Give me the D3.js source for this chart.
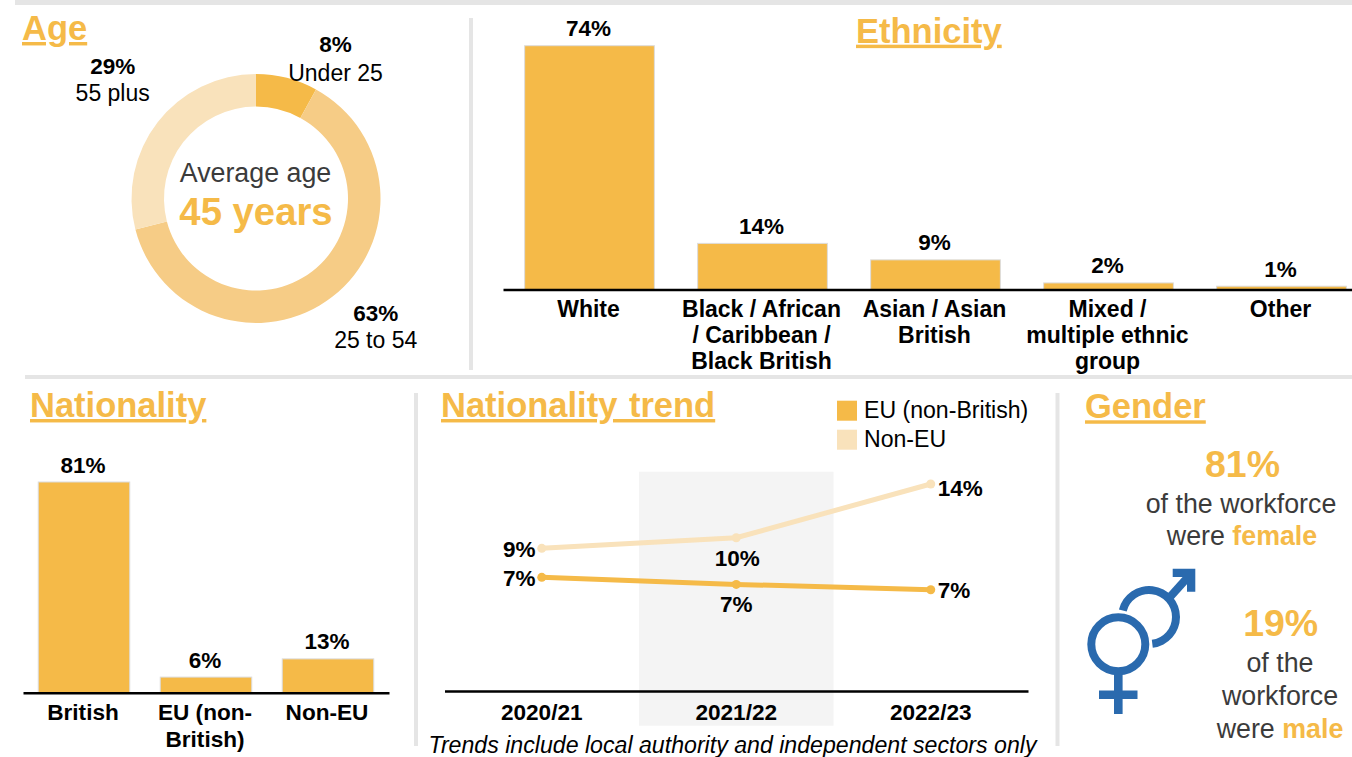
<!DOCTYPE html>
<html lang="en">
<head>
<meta charset="utf-8">
<title>Workforce demographics</title>
<script src="https://cdn.jsdelivr.net/npm/d3@7/dist/d3.min.js"></script>
<style>
  html, body { margin: 0; padding: 0; background: #fff; overflow: hidden; }
  svg { display: block; font-family: "Liberation Sans", Arial, sans-serif; }
  text { fill: #000; }
  .title { font-size: 34.5px; font-weight: 700; fill: #F5BA48; text-decoration: underline; }
  .value { font-size: 22.5px; font-weight: 700; text-anchor: middle; }
  .plain { font-size: 23px; text-anchor: middle; }
  .grey { font-size: 26.8px; fill: #3b3b3b; text-anchor: middle; }
  .big { font-weight: 700; fill: #F5BA48; text-anchor: middle; }
  .accent { font-weight: 700; fill: #F5BA48; }
  .axis path { stroke: #000; stroke-width: 2.5px; }
  .axis .tick line { display: none; }
  .axis text { font-family: "Liberation Sans", Arial, sans-serif; font-weight: 700; fill: #000; }
</style>
</head>
<body>
<svg id="chart" width="1352" height="757" viewBox="0 0 1352 757"></svg>
<script>
// Age bands
const ageBands = ["Under 25", "25 to 54", "55 plus"];
const ageShares = [8, 63, 29];
const averageAge = 45;

// Ethnicity
const ethnicityGroups = ["White", "Black / African\n/ Caribbean /\nBlack British", "Asian / Asian\nBritish", "Mixed /\nmultiple ethnic\ngroup", "Other"];
const ethnicityShares = [74, 14, 9, 2, 1];

// Nationality
const nationalityGroups = ["British", "EU (non-\nBritish)", "Non-EU"];
const nationalityShares = [81, 6, 13];

// Nationality trend
const trendYears = ["2020/21", "2021/22", "2022/23"];
const trendEU = [7.4, 6.9, 6.52];
const trendNonEU = [9.45, 10.2, 14];
const trendNames = ["EU (non-British)", "Non-EU"];

// Gender
const femaleShare = 81;
const maleShare = 19;

const GOLD = "#F5BA48", MID = "#F6CC86", PALE = "#F9E2BB", RULE = "#e5e5e5", BLUE = "#2A6AAE";
const pct = v => `${Math.round(v)}%`;
const svg = d3.select("#chart");

// Panel dividers
[[15, 0, 1337, 5], [25, 375, 1327, 4], [469, 18, 4, 352], [414, 393, 4, 353], [1055.5, 393, 4, 353]]
  .forEach(([x, y, w, h]) => svg.append("rect").attr("x", x).attr("y", y).attr("width", w).attr("height", h).attr("fill", RULE));

function title(text, x, y) {
  svg.append("text").attr("class", "title").attr("x", x).attr("y", y).text(text);
}

// Break "\n"-separated axis labels into stacked tspans
function stackLabels(axisGroup, firstBaselineOffset, size, lineHeight, dx = 0) {
  axisGroup.selectAll(".tick text").each(function (d) {
    const t = d3.select(this).text(null).attr("y", 0).attr("dy", null).attr("font-size", size);
    d.split("\n").forEach((line, i) => {
      t.append("tspan").attr("x", dx).attr("y", firstBaselineOffset + i * lineHeight).text(line);
    });
  });
}

function barPanel({ groups, shares, rangeX, rangeY, maxValue, labelSize, labelOffset, lineHeight }) {
  const x = d3.scaleBand().domain(groups).range(rangeX).paddingInner(0.25).paddingOuter(0.125);
  const y = d3.scaleLinear().domain([0, maxValue]).range(rangeY);
  const rows = groups.map((g, i) => ({ g, v: shares[i] }));

  svg.append("g").selectAll("rect").data(rows).join("rect")
    .attr("x", d => x(d.g))
    .attr("y", d => y(d.v))
    .attr("width", x.bandwidth())
    .attr("height", d => y(0) - y(d.v))
    .attr("fill", GOLD)
    .attr("stroke", "#dcdcdc")
    .attr("stroke-width", 1);

  svg.append("g").selectAll("text").data(rows).join("text")
    .attr("class", "value")
    .attr("x", d => x(d.g) + x.bandwidth() / 2 - 1)
    .attr("y", d => y(d.v) - 9.5)
    .text(d => pct(d.v));

  const axis = svg.append("g").attr("class", "axis")
    .attr("transform", `translate(0,${rangeY[0]})`)
    .call(d3.axisBottom(x).tickSize(0).tickSizeOuter(0));
  stackLabels(axis, labelOffset, labelSize, lineHeight, -1);
}

// ---- Age ----
title("Age", 22, 40);
const donut = svg.append("g").attr("transform", "translate(256,198.5)");
const pie = d3.pie().sort(null).value(d => d)(ageShares);
const ring = d3.arc().innerRadius(92).outerRadius(124.5);
const ageColour = d3.scaleOrdinal().domain(ageBands).range([GOLD, MID, PALE]);
donut.selectAll("path").data(pie).join("path")
  .attr("d", ring)
  .attr("fill", (d, i) => ageColour(ageBands[i]));

const agePlacement = [[335.5, 52.3, 28.5], [375.7, 320.7, 27], [112.7, 74, 27]];
ageBands.forEach((band, i) => {
  const [cx, by, gap] = agePlacement[i];
  svg.append("text").attr("class", "value").attr("font-size", 23).attr("x", cx).attr("y", by).text(pct(ageShares[i]));
  svg.append("text").attr("class", "plain").attr("x", cx).attr("y", by + gap).text(band);
});
svg.append("text").attr("class", "grey").attr("x", 255.5).attr("y", 182).text("Average age");
svg.append("text").attr("class", "big").attr("font-size", 38.3).attr("x", 256).attr("y", 225).text(`${averageAge} years`);

// ---- Ethnicity ----
title("Ethnicity", 856, 42.7);
barPanel({
  groups: ethnicityGroups, shares: ethnicityShares,
  rangeX: [503, 1368], rangeY: [289.5, 45.7], maxValue: 74,
  labelSize: 23, labelOffset: 27.3, lineHeight: 26
});

// ---- Nationality ----
title("Nationality", 30, 417);
barPanel({
  groups: nationalityGroups, shares: nationalityShares,
  rangeX: [23, 389], rangeY: [692.7, 482], maxValue: 81,
  labelSize: 22.6, labelOffset: 27.7, lineHeight: 26.3
});

// ---- Nationality trend ----
svg.append("text").attr("class", "title").attr("x", 441).attr("y", 417).style("word-spacing", "2px").text("Nationality trend");

const tx = d3.scaleBand().domain(trendYears).range([444.5, 1028]);
const ty = d3.scaleLinear().domain([-0.64, 14]).range([691, 484]);
const centre = yr => tx(yr) + tx.bandwidth() / 2;

svg.append("rect")
  .attr("x", tx(trendYears[1])).attr("y", 471.7)
  .attr("width", tx.bandwidth()).attr("height", 254)
  .attr("fill", "#f4f4f4");

const trendAxis = svg.append("g").attr("class", "axis")
  .attr("transform", `translate(0,${ty.range()[0]})`)
  .call(d3.axisBottom(tx).tickSize(0).tickSizeOuter(0));
stackLabels(trendAxis, 28.5, 22.6, 26);

const trendLine = d3.line().x(d => centre(d.year)).y(d => ty(d.value));
const trendSeries = [
  { name: trendNames[1], values: trendNonEU, colour: PALE, labelOffsets: [[-22.5, 9, "middle"], [1, 28.5, "middle"], [7, 12, "start"]] },
  { name: trendNames[0], values: trendEU, colour: GOLD, labelOffsets: [[-22.5, 8.5, "middle"], [0, 27.5, "middle"], [7, 8.5, "start"]] }
];
trendSeries.forEach(s => {
  const pts = trendYears.map((year, i) => ({ year, value: s.values[i] }));
  svg.append("path").attr("d", trendLine(pts)).attr("fill", "none").attr("stroke", s.colour).attr("stroke-width", 5);
  svg.append("g").selectAll("circle").data(pts).join("circle")
    .attr("cx", d => centre(d.year)).attr("cy", d => ty(d.value)).attr("r", 4.5).attr("fill", s.colour);
  svg.append("g").selectAll("text").data(pts).join("text")
    .attr("class", "value")
    .attr("x", (d, i) => centre(d.year) + s.labelOffsets[i][0])
    .attr("y", (d, i) => ty(d.value) + s.labelOffsets[i][1])
    .style("text-anchor", (d, i) => s.labelOffsets[i][2])
    .text(d => pct(d.value));
});

// Legend
[[trendNames[0], GOLD], [trendNames[1], PALE]].forEach(([name, colour], i) => {
  const ly = 400.7 + i * 29;
  svg.append("rect").attr("x", 837).attr("y", ly).attr("width", 20).attr("height", 20).attr("fill", colour);
  svg.append("text").attr("x", 864).attr("y", ly + 17).attr("font-size", 23.1).text(name);
});

svg.append("text")
  .attr("x", 732.5).attr("y", 752.5)
  .attr("text-anchor", "middle").attr("font-size", 23.15).attr("font-style", "italic")
  .text("Trends include local authority and independent sectors only");

// ---- Gender ----
title("Gender", 1085, 418.3);

svg.append("text").attr("class", "big").attr("font-size", 37.5).attr("x", 1242.5).attr("y", 476.7).text(pct(femaleShare));
svg.append("text").attr("class", "grey").attr("x", 1241).attr("y", 512.5).text("of the workforce");
const femaleLine = svg.append("text").attr("class", "grey").attr("x", 1242).attr("y", 545);
femaleLine.append("tspan").text("were ");
femaleLine.append("tspan").attr("class", "accent").text("female");

svg.append("text").attr("class", "big").attr("font-size", 37.5).attr("x", 1280.7).attr("y", 636).text(pct(maleShare));
svg.append("text").attr("class", "grey").attr("x", 1280).attr("y", 671.5).text("of the");
svg.append("text").attr("class", "grey").attr("x", 1280).attr("y", 704.5).text("workforce");
const maleLine = svg.append("text").attr("class", "grey").attr("x", 1280).attr("y", 738);
maleLine.append("tspan").text("were ");
maleLine.append("tspan").attr("class", "accent").text("male");

// Interlocked gender symbol
const symbol = svg.append("g").attr("fill", BLUE);
symbol.append("circle").attr("cx", 1118.3).attr("cy", 644.3).attr("r", 27).attr("fill", "none").attr("stroke", BLUE).attr("stroke-width", 8);
symbol.append("rect").attr("x", 1114).attr("y", 674).attr("width", 8.6).attr("height", 40);
symbol.append("rect").attr("x", 1099).attr("y", 690.5).attr("width", 38.5).attr("height", 8.5);
symbol.append("path").attr("transform", "translate(1149,617)")
  .attr("d", d3.arc().innerRadius(23).outerRadius(31).startAngle(-76 * Math.PI / 180).endAngle(173 * Math.PI / 180)());
symbol.append("path").attr("d", d3.line()([[1170, 597], [1188, 577]])).attr("stroke", BLUE).attr("stroke-width", 8).attr("fill", "none");
symbol.append("path").attr("d", d3.line()([[1172.7, 568.7], [1195.3, 568.7], [1195.3, 591.7], [1187, 591.7], [1187, 577], [1172.7, 577]]));
</script>
</body>
</html>
